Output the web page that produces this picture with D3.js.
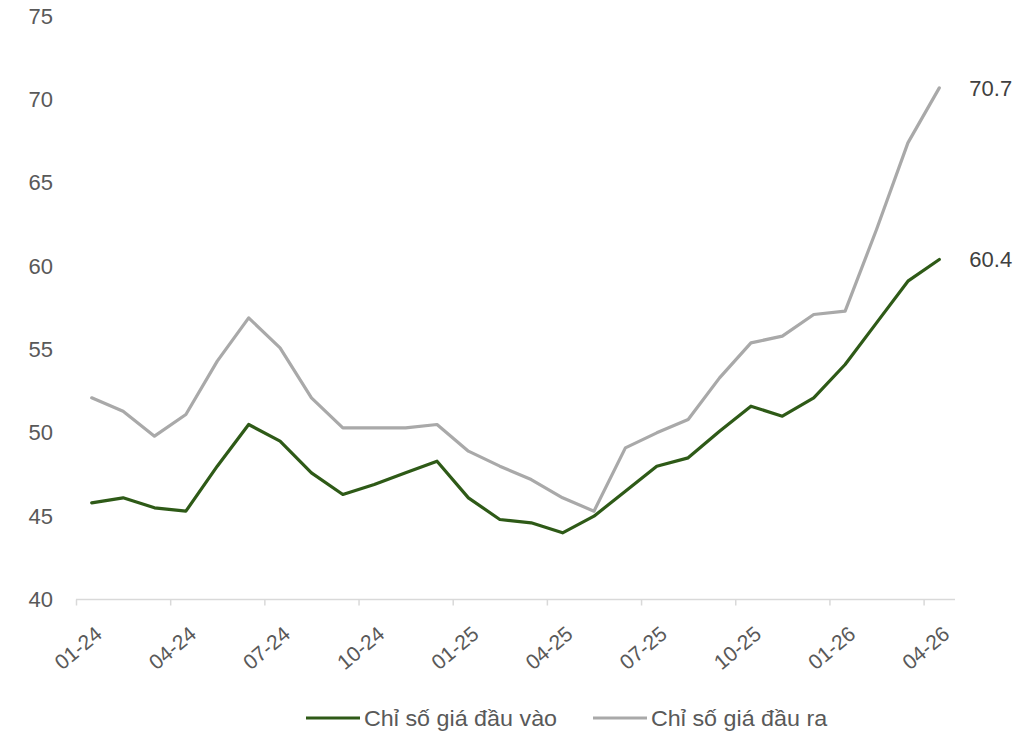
<!DOCTYPE html>
<html>
<head>
<meta charset="utf-8">
<script src="https://cdn.jsdelivr.net/npm/d3@7"></script>
<style>
  html, body { margin: 0; padding: 0; background: #fff; }
  svg { display: block; font-family: "Liberation Sans", Arial, sans-serif; }
</style>
</head>
<body>
<svg id="chart" width="1030" height="732"></svg>
<script>
const months = ["01-24","02-24","03-24","04-24","05-24","06-24","07-24","08-24","09-24","10-24","11-24","12-24",
                "01-25","02-25","03-25","04-25","05-25","06-25","07-25","08-25","09-25","10-25","11-25","12-25",
                "01-26","02-26","03-26","04-26"];
const inputPrice = [45.8,46.1,45.5,45.3,48.0,50.5,49.5,47.6,46.3,46.9,47.6,48.3,
                    46.1,44.8,44.6,44.0,45.0,46.5,48.0,48.5,50.1,51.6,51.0,52.1,
                    54.1,56.6,59.1,60.4];
const outputPrice = [52.1,51.3,49.8,51.1,54.3,56.9,55.1,52.1,50.3,50.3,50.3,50.5,
                     48.9,48.0,47.2,46.1,45.3,49.1,50.0,50.8,53.3,55.4,55.8,57.1,
                     57.3,62.2,67.4,70.7];
const yTicks = [40,45,50,55,60,65,70,75];
const seriesNames = ["Chỉ số giá đầu vào","Chỉ số giá đầu ra"];
const seriesColors = ["#2e5a17","#a9a9a9"];

const svg = d3.select("#chart");
const x = d3.scaleLinear().domain([0, months.length]).range([76, 955]);
const y = d3.scaleLinear().domain([40, 75]).range([599.5, 16.2]);
const textColor = "#595959";

// Y axis labels
const yAxis = d3.axisLeft(y).tickValues(yTicks).tickSize(0).tickPadding(0).tickFormat(d3.format("d"));
const gy = svg.append("g").attr("transform", "translate(53,0)").call(yAxis);
gy.select(".domain").remove();
gy.selectAll("text").attr("fill", textColor).style("font-size", "22px")
  .style("font-family", "'Liberation Sans', Arial, sans-serif");

// X axis: ticks at category boundaries every 3 months
const tickIdx = d3.range(0, months.length, 3);
const xAxis = d3.axisBottom(x).tickValues(tickIdx).tickSize(6).tickFormat("");
const gx = svg.append("g").attr("transform", `translate(0,${y(40)})`).call(xAxis);
gx.select(".domain").attr("stroke", "#d9d9d9").attr("stroke-width", 1.5)
  .attr("d", `M${x(0)},0H${x(months.length)}`);
gx.selectAll(".tick line").attr("stroke", "#d9d9d9").attr("stroke-width", 1.5);

// X labels centered at categories, rotated
svg.append("g").selectAll("text").data(tickIdx).join("text")
  .attr("transform", d => `translate(${x(d + 0.5) + 7},${y(40) + 31}) rotate(-40)`)
  .attr("text-anchor", "end")
  .attr("dy", "0.35em")
  .attr("fill", textColor)
  .style("font-size", "21px")
  .text(d => months[d]);

// Lines
const line = d3.line().x((d, i) => x(i + 0.5)).y(d => y(d));
[outputPrice, inputPrice].forEach((data, k) => {
  const color = k === 0 ? seriesColors[1] : seriesColors[0];
  svg.append("path").datum(data)
    .attr("fill", "none").attr("stroke", color).attr("stroke-width", 3.2)
    .attr("stroke-linejoin", "round").attr("stroke-linecap", "round")
    .attr("d", line);
});

// End labels
[inputPrice, outputPrice].forEach(data => {
  const last = data.length - 1;
  svg.append("text")
    .attr("x", x(last + 0.5) + 30).attr("y", y(data[last]))
    .attr("dy", "0.35em").attr("fill", "#404040").style("font-size", "22px")
    .text(d3.format(".1f")(data[last]));
});

// Legend
const legendItems = [
  { name: seriesNames[0], color: seriesColors[0], x: 306 },
  { name: seriesNames[1], color: seriesColors[1], x: 593 }
];
const lg = svg.append("g").selectAll("g").data(legendItems).join("g")
  .attr("transform", d => `translate(${d.x},718)`);
lg.append("line").attr("x1", 0).attr("x2", 54).attr("y1", 0).attr("y2", 0)
  .attr("stroke", d => d.color).attr("stroke-width", 3.2);
lg.append("text").attr("transform", "translate(58,0) scale(1.06,1)").attr("dy", "0.35em").attr("fill", textColor)
  .style("font-size", "22px").text(d => d.name);
</script>
</body>
</html>
